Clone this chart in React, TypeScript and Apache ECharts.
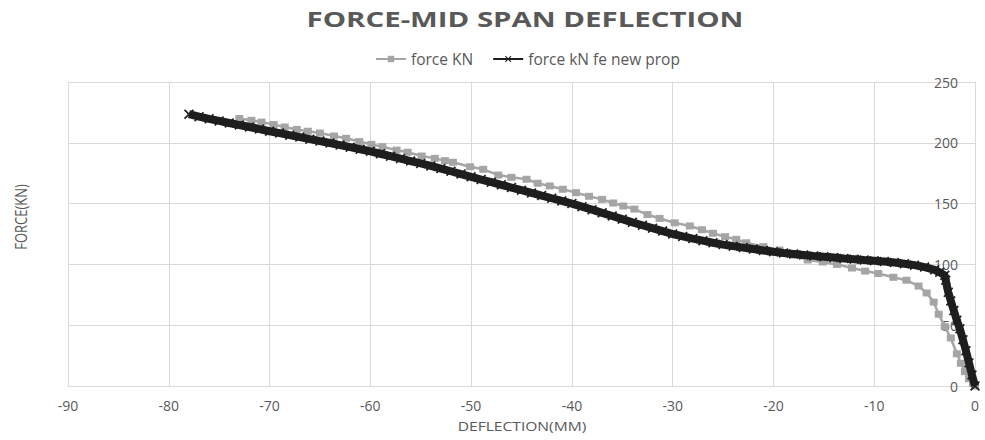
import React, { useEffect, useRef } from "react";
import * as echarts from "echarts";

const titleText = "FORCE-MID SPAN DEFLECTION";
const seriesNames = ["force KN", "force kN fe new prop"];
const xAxisTitle = "DEFLECTION(MM)";
const yAxisTitle = "FORCE(KN)";

// series 1: force KN (grey squares) [deflection mm, force kN]
const forceKN: number[][] = [
  [-73.0, 220], [-71.8, 218.5], [-70.8, 217], [-69.6, 215], [-68.5, 213], [-67.3, 211],
  [-66.2, 209.5], [-65.0, 208], [-63.6, 205.6], [-62.4, 203.7], [-61.1, 201], [-59.9, 198.7],
  [-58.8, 196.8], [-57.4, 194], [-56.3, 192.2], [-54.9, 189.1], [-53.6, 187.2], [-52.6, 185.3],
  [-51.8, 184], [-50.1, 180.3], [-48.8, 178.2], [-47.3, 173.5], [-46.0, 171.6], [-44.5, 170],
  [-43.4, 166.7], [-42.2, 164.5], [-40.9, 161.8], [-39.6, 159], [-38.3, 156], [-37.0, 153.5],
  [-35.9, 150.5], [-34.9, 148], [-33.8, 145.5], [-32.5, 141], [-31.3, 137.8], [-29.8, 134.2],
  [-28.3, 131.6], [-27.1, 128.5], [-26.0, 125.6], [-24.8, 122.8], [-23.7, 120.6], [-22.7, 117.8],
  [-21.0, 114.6], [-19.4, 111.8], [-18.0, 107.7], [-16.6, 103.6], [-15.1, 102], [-13.7, 100],
  [-12.2, 97], [-10.9, 94.5], [-9.6, 92.5], [-8.1, 89.4], [-6.8, 87], [-5.6, 82.2],
  [-4.8, 76.5], [-4.1, 69], [-3.6, 59], [-3.0, 48.8], [-2.4, 39.5], [-1.8, 26.5],
  [-1.4, 18.7], [-1.0, 11.8], [-0.6, 6], [-0.2, 2], [0, 0],
];

// series 2: force kN fe new prop (black crosses)
const forceFE: number[][] = [
  [-78, 223.5], [-77, 221.5], [-76, 219.7], [-75, 218], [-74, 216.3], [-73, 214.6],
  [-72, 213], [-71, 211.3], [-70, 209.5], [-69, 208], [-68, 206.3], [-67, 204.7],
  [-66, 203], [-65, 201.4], [-64, 199.8], [-63, 198.1], [-62, 196.4], [-61, 194.7],
  [-60, 193], [-59, 191], [-58, 189], [-57, 187], [-56, 185], [-55, 183],
  [-54, 181], [-53, 178.8], [-52, 176.6], [-51, 174.3], [-50, 172], [-49, 169.8],
  [-48, 167.6], [-47, 165.4], [-46, 163.2], [-45, 161], [-44, 158.8], [-43, 156.6],
  [-42, 154.4], [-41, 152.2], [-40, 150], [-39, 147.5], [-38, 145], [-37, 142.4],
  [-36, 139.8], [-35, 137.2], [-34, 134.6], [-33, 132.2], [-32, 129.8], [-31, 127.4],
  [-30, 125], [-29, 123], [-28, 121.2], [-27, 119.5], [-26, 117.8], [-25, 116.3],
  [-24, 115], [-23, 113.8], [-22, 112.6], [-21, 111.5], [-20, 110.4], [-19, 109.4],
  [-18, 108.6], [-17, 107.8], [-16, 107], [-15, 106.3], [-14, 105.6], [-13, 104.9],
  [-12, 104.3], [-11, 103.6], [-10, 103], [-9, 102.3], [-8, 101.5], [-7, 100.6],
  [-6, 99.4], [-5, 97.8], [-4, 95.5], [-3.5, 93.5], [-3, 91], [-2.9, 87],
  [-2.65, 77], [-2.4, 70], [-2.1, 62], [-1.8, 54], [-1.5, 47], [-1.2, 38],
  [-0.9, 29], [-0.6, 19], [-0.3, 9], [0, 0],
];

const crossPath =
  "path://M0,1.2L1.2,0L5,3.8L8.8,0L10,1.2L6.2,5L10,8.8L8.8,10L5,6.2L1.2,10L0,8.8L3.8,5Z";

const TEXT = "#595959";
const GRID = "#d9d9d9";
const FONT = "'Open Sans', 'Noto Sans', sans-serif";

export default function App() {
  const ref = useRef<HTMLDivElement>(null);
  useEffect(() => {
    if (!ref.current) return;
    const chart = echarts.init(ref.current, undefined, { renderer: "svg" });
    chart.setOption({
      animation: false,
      backgroundColor: "#ffffff",
      textStyle: { fontFamily: FONT },
      legend: {
        top: 46,
        left: 370,
        itemWidth: 30,
        itemHeight: 8,
        itemGap: 19,
        textStyle: { fontSize: 15.5, color: TEXT, fontFamily: FONT },
        data: seriesNames,
      },
      grid: { left: 68, right: 10, top: 82, bottom: 54, containLabel: false },
      xAxis: {
        type: "value",
        min: -90,
        max: 0,
        interval: 10,
        axisLine: { show: true, lineStyle: { color: GRID, width: 1 } },
        axisTick: { show: false },
        axisLabel: { fontSize: 14, color: TEXT, margin: 12 },
        splitLine: { show: true, lineStyle: { color: GRID, width: 1 } },
      },
      yAxis: {
        type: "value",
        position: "right",
        min: 0,
        max: 250,
        interval: 50,
        axisLine: { show: false },
        axisTick: { show: false },
        axisLabel: { inside: true, fontSize: 14, color: TEXT, margin: 17 },
        splitLine: { show: true, lineStyle: { color: GRID, width: 1 } },
      },
      graphic: [
        {
          type: "text",
          x: 525,
          y: 19,
          scaleX: 1.4,
          style: {
            text: titleText,
            fontSize: 21,
            fontWeight: "bold",
            fill: TEXT,
            fontFamily: FONT,
            textAlign: "center",
            textVerticalAlign: "middle",
          },
        },
        {
          type: "text",
          x: 522,
          y: 426,
          scaleX: 1.2,
          style: {
            text: xAxisTitle,
            fontSize: 13,
            fill: TEXT,
            fontFamily: FONT,
            textAlign: "center",
            textVerticalAlign: "middle",
          },
        },
        {
          type: "text",
          x: 20,
          y: 217,
          rotation: Math.PI / 2,
          scaleY: 1.25,
          style: {
            text: yAxisTitle,
            fontSize: 13,
            fill: TEXT,
            fontFamily: FONT,
            textAlign: "center",
            textVerticalAlign: "middle",
          },
        },
      ],
      series: [
        {
          name: seriesNames[0],
          type: "line",
          data: forceKN,
          symbol: "rect",
          symbolSize: [8, 7],
          showSymbol: true,
          lineStyle: { color: "#a5a5a5", width: 2.5 },
          itemStyle: { color: "#a5a5a5" },
          z: 2,
        },
        {
          name: seriesNames[1],
          type: "line",
          data: forceFE,
          symbol: crossPath,
          symbolSize: 10,
          showSymbol: true,
          lineStyle: { color: "#1e1e1e", width: 8 },
          itemStyle: { color: "#1e1e1e" },
          z: 3,
        },
      ],
    });
    return () => chart.dispose();
  }, []);
  return (
    <div
      ref={ref}
      style={{ position: "fixed", left: 0, top: 0, width: 985, height: 440 }}
    />
  );
}
